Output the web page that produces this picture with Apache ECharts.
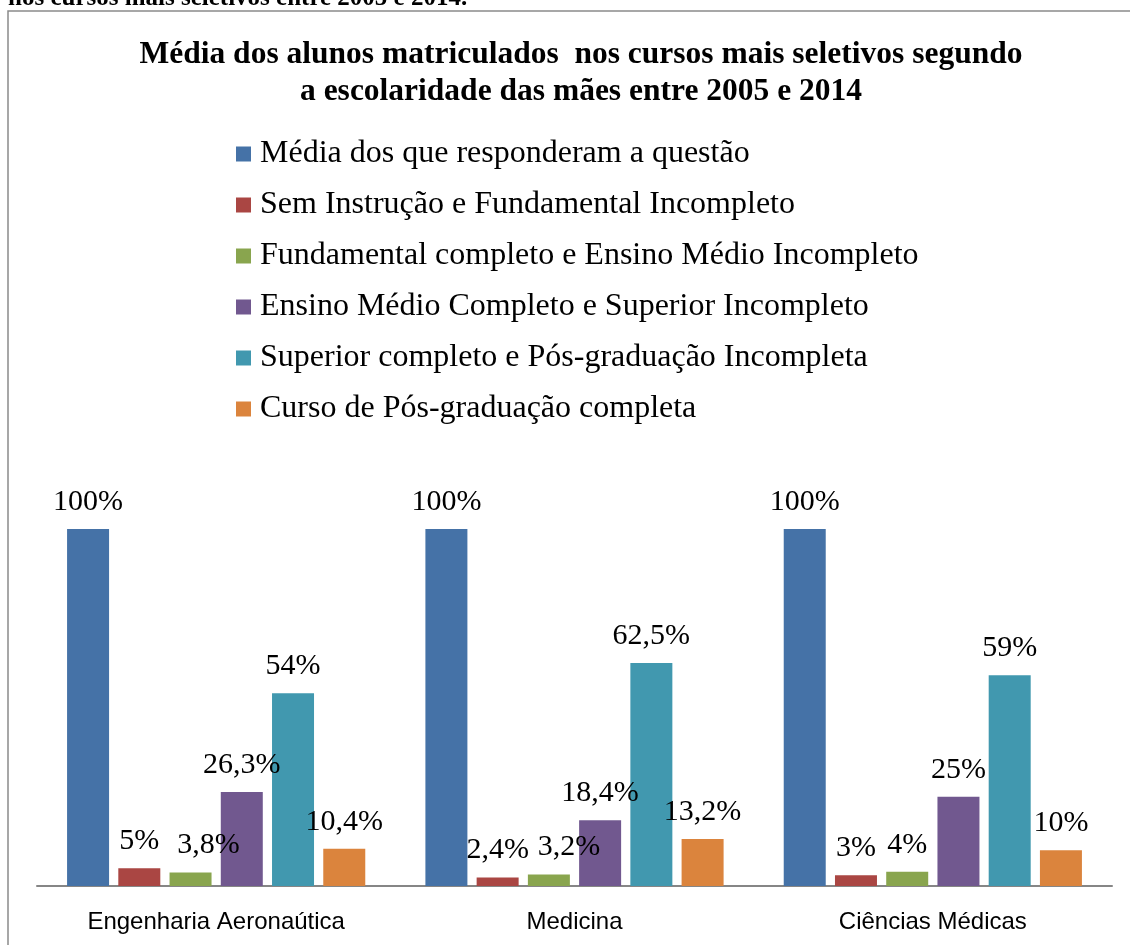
<!DOCTYPE html>
<html>
<head>
<meta charset="utf-8">
<script src="https://cdn.jsdelivr.net/npm/echarts@6/dist/echarts.min.js"></script>
<style>
html,body{margin:0;padding:0;background:#fff;}
#chart{width:1130px;height:945px;}
</style>
</head>
<body>
<div id="chart"></div>
<script>
const titleText = 'Média dos alunos matriculados  nos cursos mais seletivos segundo\na escolaridade das mães entre 2005 e 2014';
const topCaption = 'nos cursos mais seletivos entre 2005 e 2014.';
const categories = ['Engenharia Aeronaútica', 'Medicina', 'Ciências Médicas'];
const seriesNames = [
  'Média dos que responderam a questão',
  'Sem Instrução e Fundamental Incompleto',
  'Fundamental completo e Ensino Médio Incompleto',
  'Ensino Médio Completo e Superior Incompleto',
  'Superior completo e Pós-graduação Incompleta',
  'Curso de Pós-graduação completa'
];
const mediaTotal      = [100, 100, 100];
const semInstrucao    = [5, 2.4, 3];
const fundamental     = [3.8, 3.2, 4];
const ensinoMedio     = [26.3, 18.4, 25];
const superior        = [54, 62.5, 59];
const posGraduacao    = [10.4, 13.2, 10];
const valueLabels = [
  ['100%', '100%', '100%'],
  ['5%', '2,4%', '3%'],
  ['3,8%', '3,2%', '4%'],
  ['26,3%', '18,4%', '25%'],
  ['54%', '62,5%', '59%'],
  ['10,4%', '13,2%', '10%']
];
const colors = ['#4572A7', '#AA4643', '#89A54E', '#71588F', '#4198AF', '#DB843D'];
const allValues = [mediaTotal, semInstrucao, fundamental, ensinoMedio, superior, posGraduacao];
// label nudges (as in the original picture) for the green series
const labelOffsets = [
  [[0,0],[0,0],[0,0]],
  [[0,0],[0,0],[0,0]],
  [[18,0],[20,0],[0,0]],
  [[0,0],[0,0],[0,0]],
  [[0,0],[0,0],[0,0]],
  [[0,0],[0,0],[0,0]]
];

const serif = '"Liberation Serif", "Times New Roman", serif';

const chart = echarts.init(document.getElementById('chart'));
chart.setOption({
  animation: false,
  backgroundColor: '#ffffff',
  color: colors,
  title: {
    text: titleText,
    left: 576,
    textAlign: 'center',
    top: 31,
    textStyle: { fontFamily: serif, fontWeight: 'bold', fontSize: 31.5, lineHeight: 37, color: '#000' }
  },
  legend: {
    orient: 'vertical',
    left: 236,
    top: 138,
    padding: 0,
    icon: 'rect',
    itemWidth: 15,
    itemHeight: 15,
    itemGap: 19,
    textStyle: { fontFamily: serif, fontSize: 32, lineHeight: 30, color: '#000', padding: [0, 0, 0, 4] },
    data: seriesNames
  },
  graphic: [
    {
      type: 'rect',
      shape: { x: 8, y: 11, width: 1200, height: 1000 },
      style: { fill: 'none', stroke: '#8a8a8a', lineWidth: 1.5 },
      z: -1
    },
    {
      type: 'text',
      x: 8,
      y: -1,
      style: { text: topCaption, font: 'bold 25px ' + serif, fill: '#000', verticalAlign: 'middle' }
    }
  ],
  grid: { left: 37, right: 18, top: 529, bottom: 59, containLabel: false },
  xAxis: {
    type: 'category',
    data: categories,
    axisLine: { lineStyle: { color: '#868686', width: 2 } },
    axisTick: { show: false },
    axisLabel: { fontFamily: '"Liberation Sans", Arial, sans-serif', fontSize: 24, color: '#000', margin: 24 }
  },
  yAxis: {
    type: 'value',
    min: 0,
    max: 100,
    show: false,
    splitLine: { show: false }
  },
  series: allValues.map((vals, si) => ({
    name: seriesNames[si],
    type: 'bar',
    barWidth: 42,
    barGap: '22%',
    data: vals.map((v, ci) => ({
      value: v,
      label: { formatter: valueLabels[si][ci], offset: labelOffsets[si][ci] }
    })),
    label: {
      show: true,
      position: 'top',
      distance: 12,
      fontFamily: serif,
      fontSize: 30,
      color: '#000'
    }
  }))
});
</script>
</body>
</html>
